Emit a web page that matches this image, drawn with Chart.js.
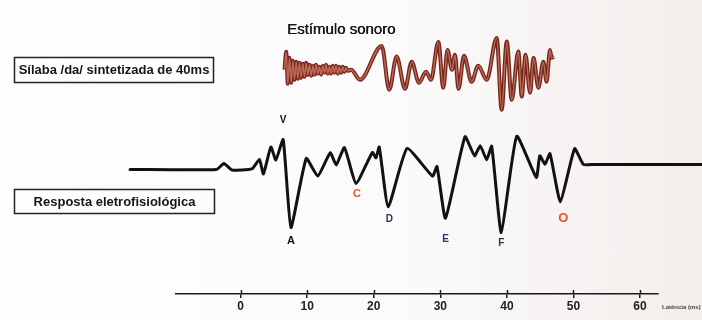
<!DOCTYPE html>
<html>
<head>
<meta charset="utf-8">
<script src="https://cdn.jsdelivr.net/npm/chart.js@4.4.1/dist/chart.umd.min.js"></script>
<style>
  html, body { margin: 0; padding: 0; }
  body { width: 702px; height: 320px; overflow: hidden;
         background: linear-gradient(to right, #fefefe 0%, #fcfbfb 55%, #f2eeec 100%); }
  #wrap { position: relative; width: 702px; height: 320px; }
</style>
</head>
<body>
<div id="wrap"><canvas id="c" width="702" height="320"></canvas></div>
<script>
// ---- Data (latency in ms, amplitudes in arbitrary units) ----
const xTickValues = [0, 10, 20, 30, 40, 50, 60];

const responseLatency = [-16.6, -3.6, -2.5, -1.3, 1.7, 2.83, 3.43, 4.55, 5.3, 6.4,
  7.56, 9.86, 11.6, 13.47, 14.37, 15.6, 17.33, 19.8, 20.33, 20.83,
  22.18, 25.0, 28.83, 29.5, 30.78, 33.7, 35.14, 36.0, 36.97, 37.72,
  39.16, 41.48, 44.42, 44.94, 45.73, 46.48, 48.03, 50.17, 51.49, 53.0, 69.3];
const responseAmplitude = [0, 0, 0.6, -0.05, 0.05, 1.0, -0.45, 2.25, 0.95, 3.0,
  -5.83, 1.1, -0.67, 1.67, 0.45, 2.2, -1.4, 1.7, 1.17, 2.25,
  -3.75, 2.1, -0.67, 0.3, -4.9, 3.28, 1.37, 2.37, 0.97, 2.33,
  -6.33, 3.33, -0.8, 1.37, 0.53, 1.58, -3.25, 2.08, 0.5, 0.5, 0.5];

const peakNames = ['V', 'A', 'C', 'D', 'E', 'F', 'O'];
const peakLatency = [6.4, 7.56, 17.33, 22.18, 30.78, 39.16, 48.03];

const stimulusTime = [6.6, 6.85, 7.1, 7.35, 7.6, 7.85, 8.1, 8.35, 8.6, 8.85,
  9.1, 9.35, 9.6, 9.85, 10.1, 10.35, 10.6, 10.85, 11.1, 11.35,
  11.6, 11.85, 12.1, 12.35, 12.6, 12.85, 13.1, 13.35, 13.6, 13.85,
  14.1, 14.35, 14.6, 14.85, 15.1, 15.35, 15.6, 15.85, 16.1, 16.6,
  17.93, 21.2, 22.33, 23.44, 24.7, 25.7, 26.8, 27.85, 28.6, 29.7,
  30.45, 31.08, 31.75, 32.2, 32.73, 33.56, 34.7, 35.7, 36.97, 38.47,
  39.22, 39.98, 40.73, 41.72, 42.23, 42.8, 43.48, 44.0, 44.73, 45.48,
  45.96, 46.48, 46.7, 47.08];
const stimulusAmplitude = [0, 1.8, -1.4, 1.2, -1.3, 0.9, -1.0, 0.8, -0.9, 0.7,
  -0.8, 0.6, -0.7, 0.7, -0.5, 0.5, -0.6, 0.4, -0.5, 0.5,
  -0.4, 0.3, -0.5, 0.4, -0.3, 0.5, -0.4, 0.3, -0.4, 0.4,
  -0.3, 0.4, -0.4, 0.3, -0.3, 0.3, -0.2, 0.2, -0.1, 0,
  -1.0, 2.4, -2.0, 1.33, -1.9, 0.8, -1.3, -0.2, -1.0, 2.8,
  -1.8, 2.0, 0.0, 1.5, -1.9, 1.4, -1.2, 0.4, -1.0, 3.2,
  -4.0, 2.83, -3.0, 1.83, -2.67, 1.5, -2.3, 1.2, -1.8, 0.8,
  -1.2, 2.0, 1.2, 1.3];

// ---- Build library data ----
const responsePoints = responseLatency.map((t, i) => ({ x: t, y: responseAmplitude[i] }));
const stimulusPoints = stimulusTime.map((t, i) => ({ x: t, y: stimulusAmplitude[i] }));

const FONT = '"Liberation Sans", Arial, Helvetica, sans-serif';

const peakStyle = {
  V: { color: '#111111', size: 10, dx: 0, dy: -19 },
  A: { color: '#111111', size: 11, dx: 0, dy: 13 },
  C: { color: '#e4572e', size: 11, dx: 1, dy: 11 },
  D: { color: '#3b2a5e', size: 10, dx: 1, dy: 12 },
  E: { color: '#3b2a5e', size: 10, dx: 0, dy: 21 },
  F: { color: '#3b2a5e', size: 10, dx: 0, dy: 11 },
  O: { color: '#e4572e', size: 13, dx: 3, dy: 17 }
};

const decorations = {
  id: 'decorations',
  afterDraw(chart) {
    const ctx = chart.ctx;
    const xs = chart.scales.x, ys = chart.scales.y;
    const bottom = chart.chartArea.bottom;
    ctx.save();
    // tick marks crossing the axis line (upper half)
    ctx.strokeStyle = '#1a1a1a';
    ctx.lineWidth = 1.5;
    xTickValues.forEach(v => {
      const px = Math.round(xs.getPixelForValue(v)) + 0.5;
      ctx.beginPath(); ctx.moveTo(px, bottom - 4); ctx.lineTo(px, bottom); ctx.stroke();
    });
    // peak labels
    ctx.textAlign = 'center';
    ctx.textBaseline = 'middle';
    peakNames.forEach((name, i) => {
      const idx = responseLatency.indexOf(peakLatency[i]);
      const st = peakStyle[name];
      const px = xs.getPixelForValue(peakLatency[i]) + st.dx;
      const py = ys.getPixelForValue(responseAmplitude[idx]) + st.dy;
      ctx.fillStyle = st.color;
      ctx.font = 'bold ' + st.size + 'px ' + FONT;
      ctx.fillText(name, px, py);
    });
    // boxed labels
    ctx.strokeStyle = '#222';
    ctx.lineWidth = 1.5;
    ctx.strokeRect(14.5, 57.5, 199, 25);
    ctx.strokeRect(14.5, 189.5, 200, 24);
    ctx.fillStyle = '#151515';
    ctx.font = 'bold 13px ' + FONT;
    ctx.fillText('Sílaba /da/ sintetizada de 40ms', 114, 70.5);
    ctx.fillText('Resposta eletrofisiológica', 114.5, 202);
    // stimulus title
    ctx.textAlign = 'left';
    ctx.font = '15px ' + FONT;
    ctx.fillStyle = '#151515';
    ctx.fillText('Estímulo sonoro', 287, 30);
    ctx.fillText('Estímulo sonoro', 287.4, 30);
    // axis title (cut by the edge)
    ctx.font = 'bold 6px ' + FONT;
    ctx.fillStyle = '#444';
    ctx.fillText('Latência (ms)', 662, 307);
    ctx.restore();
  }
};

new Chart(document.getElementById('c'), {
  type: 'line',
  data: {
    datasets: [
      { label: 'Estímulo (realce)', data: stimulusPoints, yAxisID: 'y2', order: 0,
        borderColor: '#c06a55', borderWidth: 1.4, pointRadius: 0, clip: false,
        cubicInterpolationMode: 'monotone', fill: false },
      { label: 'Estímulo sonoro', data: stimulusPoints, yAxisID: 'y2', order: 1,
        borderColor: '#74281d', borderWidth: 4, pointRadius: 0, clip: false,
        cubicInterpolationMode: 'monotone', fill: false },
      { label: 'Resposta eletrofisiológica', data: responsePoints, yAxisID: 'y', order: 2,
        borderColor: '#111111', borderWidth: 3, pointRadius: 0, clip: false,
        tension: 0.15, fill: false, borderJoinStyle: 'round', borderCapStyle: 'round' }
    ]
  },
  options: {
    responsive: false,
    animation: false,
    events: [],
    layout: { padding: { left: 176, right: 44, top: 15, bottom: 5.6 } },
    plugins: { legend: { display: false }, tooltip: { enabled: false } },
    scales: {
      x: {
        type: 'linear', min: -9.7, max: 62.7,
        afterBuildTicks: (axis) => { axis.ticks = xTickValues.map(v => ({ value: v })); },
        border: { display: true, color: '#1a1a1a', width: 1.5 },
        grid: { display: true, drawOnChartArea: false, drawTicks: true, tickLength: 4,
                color: '#1a1a1a', lineWidth: 1.5 },
        ticks: { color: '#222', padding: 1, maxRotation: 0, autoSkip: false,
                 font: { family: FONT, size: 12, weight: 'bold' } }
      },
      y: { type: 'linear', display: false, min: -12.5, max: 15.5 },
      y2: { type: 'linear', display: false, min: -22.5, max: 5.5 }
    }
  },
  plugins: [decorations]
});
</script>
</body>
</html>
